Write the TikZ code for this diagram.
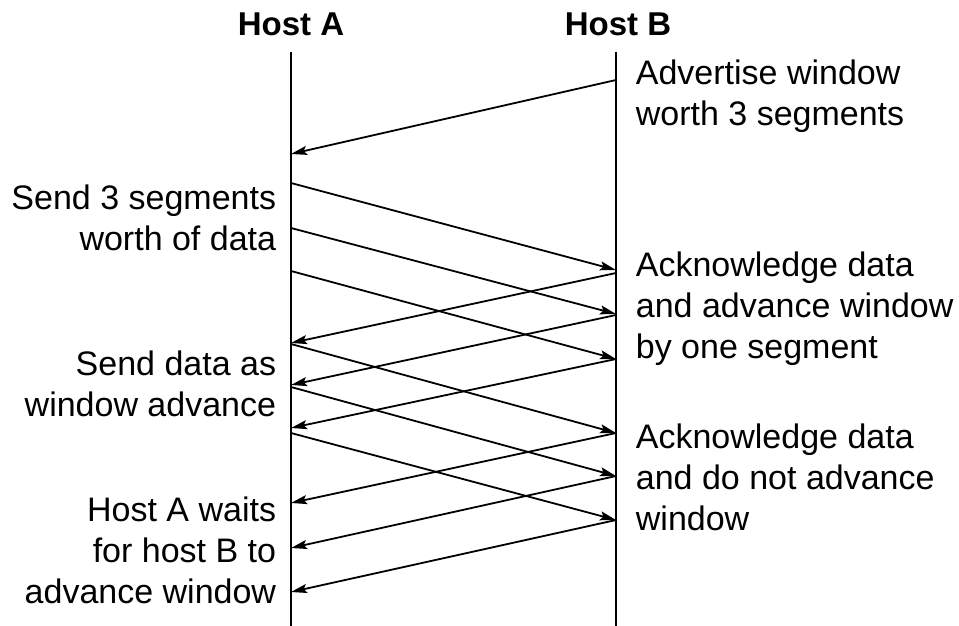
\documentclass[tikz,border=0pt]{standalone}
\usepackage{fontspec}
\setmainfont{Liberation Sans}
\usetikzlibrary{arrows.meta}
\begin{document}
\begin{tikzpicture}[x=1pt, y=-1pt, line width=1.8pt,
    >={Stealth[length=16pt, width=9pt, inset=3pt]},
    font=\fontsize{34}{41}\selectfont,
    lbl/.style={inner sep=0pt, align=right, anchor=base east},
    rlbl/.style={inner sep=0pt, align=left, anchor=base west}]
  \useasboundingbox (0,0) rectangle (959,626);
  % hosts and their time lines
  \node[inner sep=0pt, anchor=base, font=\fontsize{33}{41}\selectfont\bfseries] (hostA) at (291,36) {Host A};
  \node[inner sep=0pt, anchor=base, font=\fontsize{33}{41}\selectfont\bfseries] (hostB) at (618,36) {Host B};
  \coordinate (Atop) at (291,52);
  \coordinate (Abot) at (291,626);
  \coordinate (Btop) at (616,52);
  \coordinate (Bbot) at (616,626);
  \draw (Atop) -- (Abot);
  \draw (Btop) -- (Bbot);

  % event points on host A
  \foreach \n/\y in {w/154, s1/183, s2/228, s3/271, k1/343, k2/385, k3/428,
                     t1/344, t2/387, t3/433, h1/503, h2/548, h3/592}
    \coordinate (A\n) at (291,\y);
  % event points on host B
  \foreach \n/\y in {w/80, s1/270, s2/314, s3/359, k1/273, k2/315, k3/359,
                     t1/433, t2/476, t3/520, h1/433, h2/476, h3/520}
    \coordinate (B\n) at (616,\y);

  % window advertisement, data and acks
  \draw[->] (Bw) -- (Aw);
  \foreach \n in {s1, s2, s3, t1, t2, t3}
    \draw[->] (A\n) -- (B\n);
  \foreach \n in {k1, k2, k3, h1, h2, h3}
    \draw[->] (B\n) -- (A\n);

  % notes (placed by the baseline of their last line)
  \node[lbl] (send) at (277,250) {Send 3 segments\\worth of data};
  \node[lbl] (advance) at (277,416) {Send data as\\window advance};
  \node[lbl] (waits) at (277,603) {Host A waits\\for host B to\\advance window};
  \node[rlbl] (advert) at (635,125) {Advertise window\\worth 3 segments};
  \node[rlbl] (ackone) at (635,358) {Acknowledge data\\and advance window\\by one segment};
  \node[rlbl] (acknot) at (635,530) {Acknowledge data\\and do not advance\\window};
\end{tikzpicture}
\end{document}
